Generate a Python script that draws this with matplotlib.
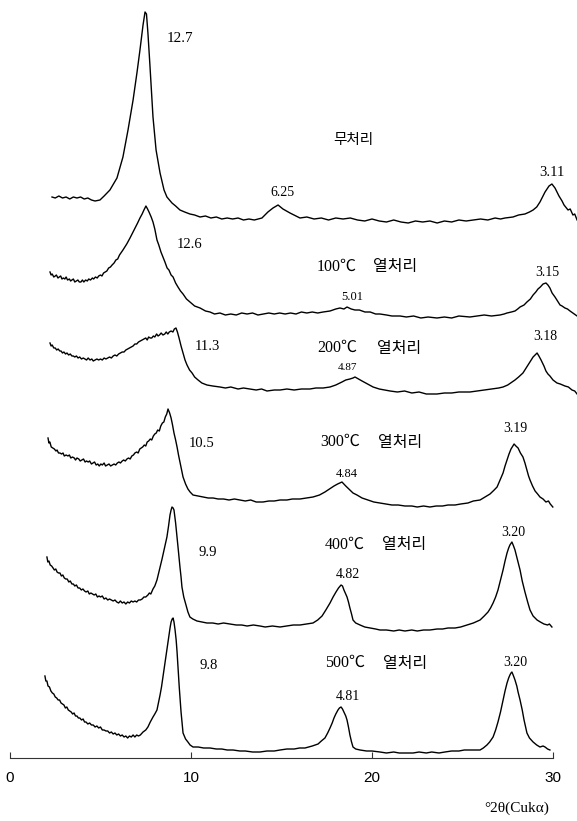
import numpy as np
import matplotlib
matplotlib.use("Agg")
import matplotlib.pyplot as plt

# XRD patterns (2theta, relative intensity above each pattern's baseline)
untreated = [
    (2.32, 23), (2.5, 22), (2.7, 24), (2.9, 22), (3.1, 23), (3.3, 21), (3.5, 23), (3.7, 22),
    (3.9, 23), (4.1, 21), (4.3, 22), (4.5, 20), (4.7, 19), (4.97, 20), (5.2, 24), (5.52, 30),
    (5.91, 42), (6.24, 63), (6.52, 90), (6.80, 120), (7.02, 148), (7.18, 170), (7.35, 195),
    (7.46, 208), (7.54, 206), (7.62, 187), (7.73, 155), (7.90, 103), (8.07, 70), (8.29, 47),
    (8.51, 30), (8.67, 23), (8.95, 17), (9.15, 14), (9.39, 10), (9.65, 8), (9.94, 6), (10.2, 5),
    (10.5, 3), (10.8, 4), (11.1, 2), (11.4, 3), (11.7, 1), (12.0, 2), (12.3, 1), (12.6, 2),
    (12.9, 0), (13.2, 1), (13.5, 0), (13.92, 2), (14.25, 8), (14.53, 12), (14.81, 15),
    (15.08, 11), (15.47, 7), (15.8, 4), (16.02, 2), (16.4, 3), (16.8, 1), (17.2, 2), (17.6, 0),
    (18.0, 2), (18.4, 1), (18.8, 2), (19.2, 0), (19.6, -1), (20.0, 1), (20.4, -1), (20.8, -2),
    (21.2, 0), (21.6, -2), (22.0, -3), (22.4, -1), (22.8, -2), (23.2, -1), (23.6, -3), (24.0, -1),
    (24.4, -2), (24.8, 0), (25.2, -1), (25.6, 0), (26.0, 1), (26.4, 0), (26.8, 2), (27.1, 1),
    (27.35, 2), (27.79, 3), (28.1, 5), (28.45, 6), (28.7, 8), (28.90, 10), (29.1, 13),
    (29.28, 18), (29.56, 28), (29.78, 34), (29.94, 36), (30.11, 32), (30.33, 24), (30.5, 19),
    (30.61, 15), (30.83, 10), (30.95, 11), (31.10, 5), (31.2, 6), (31.33, 0),
]
heated_100 = [
    (2.21, 43), (2.27, 40), (2.33, 41), (2.42, 38), (2.5, 39), (2.56, 40), (2.65, 37), (2.72, 38),
    (2.8, 39), (2.87, 36), (2.95, 37), (3.03, 36), (3.1, 38), (3.18, 35), (3.28, 36), (3.35, 34),
    (3.42, 35), (3.5, 36), (3.58, 33), (3.66, 34), (3.75, 35), (3.83, 33), (3.92, 33), (4.0, 35),
    (4.08, 33), (4.18, 35), (4.27, 34), (4.35, 36), (4.45, 35), (4.55, 37), (4.62, 36), (4.72, 38),
    (4.82, 37), (4.9, 39), (5.0, 40), (5.08, 39), (5.17, 42), (5.26, 43), (5.35, 44), (5.45, 47),
    (5.55, 48), (5.64, 50), (5.75, 52), (5.85, 55), (5.95, 56), (6.05, 60), (6.24, 65),
    (6.45, 71), (6.63, 77), (6.8, 83), (6.91, 87), (7.05, 92),
    (7.18, 97), (7.30, 101), (7.40, 105), (7.51, 109), (7.60, 106), (7.68, 103), (7.80, 98),
    (7.90, 93), (8.00, 86), (8.12, 75), (8.22, 70), (8.34, 63), (8.45, 58), (8.56, 53),
    (8.68, 47), (8.78, 45), (8.90, 40), (9.01, 38), (9.15, 32), (9.28, 28), (9.42, 24),
    (9.56, 21), (9.75, 16), (9.94, 13), (10.2, 9), (10.50, 7), (10.8, 4), (11.05, 3), (11.3, 1),
    (11.60, 2), (11.9, 0), (12.2, 1), (12.5, 0), (12.8, 2), (13.1, 1), (13.4, 2), (13.7, 0),
    (14.0, 1), (14.3, 2), (14.6, 1), (14.9, 2), (15.2, 1), (15.5, 2), (15.8, 1), (16.1, 3),
    (16.4, 2), (16.7, 3), (17.0, 2), (17.3, 3), (17.68, 4), (18.0, 6), (18.23, 7), (18.45, 6),
    (18.62, 8), (18.85, 6), (19.06, 5), (19.3, 5), (19.61, 3), (19.9, 3), (20.2, 1), (20.44, 1),
    (20.8, 0), (21.1, -1), (21.55, -1), (21.9, -2), (22.3, -1), (22.7, -3), (23.1, -2),
    (23.59, -3), (24.0, -2), (24.4, -3), (24.8, -1), (25.41, -2), (25.8, -1), (26.2, 0),
    (26.6, -1), (27.07, 0), (27.3, 1), (27.46, 2), (27.7, 3), (27.90, 4), (28.05, 6), (28.18, 8),
    (28.4, 10), (28.56, 13), (28.75, 16), (28.90, 20), (29.05, 23), (29.17, 26), (29.30, 28),
    (29.45, 31), (29.61, 32), (29.72, 30), (29.83, 27), (29.95, 22), (30.11, 18), (30.25, 14),
    (30.39, 10), (30.5, 9), (30.66, 7), (30.8, 6), (30.94, 4), (31.1, 2), (31.33, -1),
]
heated_200 = [
    (2.21, 47), (2.27, 44), (2.33, 45), (2.42, 42), (2.5, 42), (2.58, 40), (2.66, 41), (2.75, 39),
    (2.82, 39), (2.9, 37), (2.98, 38), (3.07, 36), (3.15, 37), (3.24, 35), (3.33, 36), (3.42, 34),
    (3.5, 34), (3.58, 33), (3.67, 34), (3.76, 32), (3.85, 33), (3.95, 31), (4.05, 32), (4.14, 31),
    (4.23, 30), (4.32, 32), (4.42, 30), (4.52, 31), (4.6, 29), (4.7, 30), (4.8, 31), (4.9, 30),
    (5.0, 31), (5.1, 30), (5.2, 32), (5.3, 31), (5.4, 32), (5.5, 33), (5.6, 32), (5.7, 34),
    (5.8, 35), (5.9, 34), (6.0, 36), (6.1, 37), (6.2, 38), (6.3, 38), (6.4, 40), (6.5, 41),
    (6.6, 42), (6.7, 43), (6.8, 44), (6.9, 46), (7.0, 46), (7.1, 48), (7.2, 49), (7.3, 50),
    (7.4, 51), (7.5, 52), (7.58, 50), (7.66, 53), (7.75, 52), (7.83, 52), (7.92, 54), (8.0, 53),
    (8.1, 56), (8.18, 54), (8.26, 55), (8.35, 57), (8.45, 55), (8.55, 56), (8.63, 58), (8.72, 56),
    (8.8, 58), (8.9, 59), (9.0, 58), (9.08, 61), (9.17, 62), (9.25, 58),
    (9.34, 52), (9.45, 44), (9.56, 37),
    (9.67, 30), (9.78, 25), (9.92, 20), (10.06, 17), (10.2, 13), (10.39, 10), (10.6, 7),
    (10.88, 5), (11.2, 4), (11.60, 3), (11.9, 2), (12.2, 3), (12.6, 1), (12.9, 2), (13.26, 1),
    (13.6, 0), (13.9, 1), (14.2, -1), (14.6, 0), (14.92, 0), (15.3, 1), (15.7, 0), (16.1, 1),
    (16.57, 1), (16.9, 2), (17.3, 2), (17.68, 3), (18.0, 5), (18.34, 8), (18.55, 10),
    (18.78, 11), (18.95, 12), (19.06, 13), (19.25, 11), (19.45, 9), (19.75, 6), (20.06, 3),
    (20.4, 1), (20.7, 0), (21.0, -1), (21.4, -2), (21.8, -1), (22.2, -3), (22.6, -2), (23.0, -4),
    (23.59, -4), (24.0, -3), (24.4, -3), (24.8, -2), (25.41, -2), (25.8, -1), (26.2, 0),
    (26.6, 1), (27.0, 2), (27.24, 3), (27.5, 5), (27.90, 10), (28.1, 13), (28.34, 17),
    (28.55, 23), (28.73, 28), (28.9, 33), (29.01, 35), (29.12, 37), (29.22, 34), (29.34, 30),
    (29.5, 24), (29.61, 19), (29.72, 16), (29.83, 14), (30.0, 10), (30.22, 7), (30.4, 6),
    (30.66, 4), (30.85, 3), (31.05, 0), (31.2, -1), (31.33, -4),
]
heated_300 = [
    (2.10, 67), (2.15, 62), (2.2, 63), (2.28, 58), (2.36, 57), (2.45, 56), (2.54, 54), (2.6, 55),
    (2.68, 52), (2.76, 52), (2.85, 51), (2.93, 52), (3.0, 49), (3.1, 50), (3.2, 49), (3.28, 50),
    (3.36, 47), (3.45, 48), (3.55, 47), (3.62, 45), (3.7, 47), (3.8, 46), (3.88, 44), (3.97, 45),
    (4.06, 46), (4.15, 43), (4.23, 44), (4.32, 43), (4.4, 44), (4.5, 41), (4.58, 42), (4.67, 43),
    (4.76, 40), (4.85, 41), (4.93, 39), (5.02, 41), (5.1, 40), (5.2, 42), (5.28, 39), (5.38, 40),
    (5.47, 41), (5.56, 39), (5.65, 40), (5.75, 41), (5.84, 40), (5.93, 42), (6.02, 43), (6.1, 42),
    (6.2, 44), (6.28, 45), (6.37, 44), (6.46, 46), (6.55, 47), (6.64, 46), (6.73, 49), (6.82, 50),
    (6.9, 52), (7.0, 53), (7.08, 52), (7.17, 56), (7.25, 57), (7.33, 58), (7.42, 60), (7.5, 59),
    (7.58, 63), (7.66, 64), (7.75, 66), (7.83, 65), (7.92, 69), (8.0, 71), (8.08, 72), (8.16, 75),
    (8.25, 74), (8.33, 79), (8.42, 82), (8.5, 83), (8.58, 88), (8.66, 91), (8.73, 96),
    (8.82, 92), (8.90, 87), (8.98, 80), (9.06, 72), (9.15, 65),
    (9.23, 58), (9.31, 50), (9.39, 43), (9.48, 35), (9.56, 28), (9.7, 21), (9.83, 16),
    (9.95, 13), (10.11, 10), (10.4, 9), (10.66, 8), (10.95, 7), (11.22, 7), (11.5, 6), (11.8, 6),
    (12.1, 5), (12.4, 6), (12.71, 5), (13.0, 4), (13.3, 5), (13.6, 3), (13.98, 3), (14.3, 4),
    (14.6, 4), (14.92, 5), (15.3, 5), (15.6, 6), (16.02, 6), (16.4, 7), (16.74, 8), (17.1, 10),
    (17.40, 13), (17.65, 16), (17.90, 19), (18.1, 21), (18.34, 23), (18.55, 19), (18.78, 15),
    (18.95, 12), (19.17, 10), (19.45, 7), (19.77, 5), (20.1, 3), (20.44, 2), (20.8, 1),
    (21.1, 0), (21.45, 0), (21.82, -1), (22.2, -1), (22.5, -2), (22.85, -1), (23.20, -2),
    (23.55, -1), (23.9, -1), (24.2, 0), (24.59, 0), (24.9, 1), (25.3, 2), (25.6, 4), (25.97, 5),
    (26.25, 8), (26.52, 11), (26.75, 15), (26.91, 18), (27.05, 24), (27.24, 32), (27.35, 39),
    (27.46, 45), (27.57, 51), (27.68, 56), (27.78, 59), (27.85, 61), (27.95, 59), (28.07, 57),
    (28.2, 52), (28.34, 48), (28.45, 42), (28.56, 35), (28.65, 29), (28.73, 25), (28.87, 19),
    (29.01, 14), (29.15, 11), (29.28, 8), (29.45, 6), (29.61, 3), (29.75, 4), (29.85, 1),
    (29.99, -2),
]
heated_400 = [
    (2.04, 70), (2.09, 65), (2.15, 66), (2.22, 62), (2.3, 61), (2.38, 59), (2.45, 57), (2.53, 58),
    (2.6, 55), (2.68, 54), (2.76, 54), (2.84, 51), (2.92, 52), (3.0, 49), (3.08, 48), (3.16, 48),
    (3.25, 45), (3.33, 46), (3.42, 43), (3.5, 43), (3.58, 41), (3.67, 42), (3.76, 39), (3.85, 39),
    (3.94, 37), (4.03, 38), (4.12, 36), (4.2, 35), (4.3, 36), (4.38, 33), (4.47, 34), (4.56, 33),
    (4.65, 32), (4.74, 33), (4.83, 30), (4.92, 31), (5.0, 30), (5.1, 31), (5.2, 28), (5.3, 29),
    (5.4, 27), (5.5, 28), (5.6, 27), (5.7, 26), (5.8, 27), (5.9, 25), (6.0, 24), (6.1, 26),
    (6.2, 24), (6.3, 25), (6.4, 23), (6.5, 25), (6.6, 24), (6.7, 26), (6.8, 25), (6.9, 26),
    (7.0, 25), (7.1, 27), (7.2, 27), (7.3, 28), (7.4, 30), (7.5, 30), (7.62, 32), (7.7, 34),
    (7.78, 33), (7.90, 38), (8.0, 41),
    (8.12, 47), (8.2, 53), (8.29, 60), (8.40, 68), (8.51, 77), (8.6, 84), (8.67, 90), (8.76, 101),
    (8.84, 112), (8.90, 117), (8.95, 120), (9.01, 119), (9.06, 117), (9.15, 104), (9.23, 90),
    (9.31, 75), (9.39, 60), (9.45, 50), (9.50, 40), (9.6, 30), (9.72, 22), (9.83, 15),
    (9.94, 10), (10.1, 8), (10.33, 6), (10.6, 5), (10.88, 4), (11.2, 4), (11.5, 3), (11.8, 4),
    (12.15, 3), (12.5, 2), (12.8, 2), (13.1, 1), (13.45, 2), (13.81, 1), (14.1, 0), (14.5, 1),
    (14.92, 0), (15.3, 1), (15.65, 2), (16.02, 2), (16.4, 3), (16.74, 4), (17.0, 7), (17.24, 11),
    (17.45, 17), (17.68, 24), (17.85, 30), (18.01, 35), (18.15, 39), (18.29, 42), (18.37, 41),
    (18.45, 37), (18.55, 33), (18.62, 30), (18.7, 25), (18.78, 19), (18.87, 13), (18.95, 7),
    (19.1, 4), (19.34, 2), (19.6, 0), (19.9, -1), (20.2, -2), (20.44, -3), (20.8, -3), (21.2, -4),
    (21.5, -3), (21.82, -4), (22.2, -3), (22.5, -4), (22.85, -3), (23.20, -3), (23.6, -2),
    (23.9, -2), (24.2, -1), (24.59, -1), (24.9, 0), (25.25, 2), (25.6, 4), (25.97, 7),
    (26.2, 11), (26.41, 15), (26.55, 19), (26.69, 24), (26.83, 30), (26.96, 37), (27.1, 47),
    (27.24, 57), (27.35, 66), (27.46, 74), (27.55, 79), (27.62, 82), (27.73, 85), (27.82, 81),
    (27.90, 77), (28.04, 67), (28.18, 57), (28.3, 46), (28.45, 35), (28.6, 25), (28.73, 17),
    (28.9, 11), (29.12, 7), (29.3, 5), (29.50, 3), (29.7, 2), (29.8, 3), (29.94, 0),
]
heated_500 = [
    (1.93, 76), (1.98, 71), (2.04, 71), (2.1, 66), (2.18, 65), (2.26, 61), (2.34, 59), (2.42, 58),
    (2.5, 55), (2.58, 54), (2.66, 52), (2.74, 52), (2.82, 49), (2.9, 48), (2.98, 47), (3.06, 44),
    (3.14, 45), (3.22, 42), (3.3, 41), (3.38, 40), (3.46, 38), (3.54, 39), (3.62, 36), (3.7, 36),
    (3.78, 34), (3.86, 34), (3.95, 32), (4.04, 33), (4.12, 30), (4.2, 30), (4.3, 28), (4.4, 29),
    (4.5, 27), (4.6, 27), (4.7, 25), (4.8, 26), (4.9, 24), (5.0, 25), (5.1, 22), (5.2, 22),
    (5.3, 21), (5.4, 21), (5.5, 19), (5.6, 20), (5.7, 18), (5.8, 19), (5.9, 17), (6.0, 18),
    (6.1, 16), (6.2, 17), (6.3, 15), (6.4, 16), (6.5, 14), (6.6, 16), (6.7, 15), (6.8, 17),
    (6.9, 15), (7.0, 17), (7.1, 16), (7.2, 17), (7.35, 20), (7.5, 22), (7.62, 25), (7.75, 30),
    (7.90, 35),
    (8.0, 38), (8.12, 42), (8.2, 49), (8.29, 57), (8.37, 65), (8.45, 75), (8.54, 86), (8.62, 97),
    (8.70, 107), (8.78, 117), (8.85, 125), (8.90, 130), (8.96, 133), (9.01, 134), (9.06, 130),
    (9.12, 122), (9.18, 112), (9.23, 100), (9.28, 85), (9.35, 65), (9.45, 40), (9.56, 19),
    (9.7, 13), (9.83, 10), (9.95, 7), (10.11, 5), (10.4, 5), (10.7, 4), (11.05, 4), (11.4, 3),
    (11.7, 3), (12.0, 2), (12.32, 2), (12.7, 1), (13.0, 1), (13.4, 0), (13.81, 0), (14.2, 1),
    (14.6, 1), (14.92, 2), (15.3, 3), (15.7, 3), (16.0, 4), (16.30, 4), (16.7, 6), (17.02, 8),
    (17.2, 11), (17.40, 14), (17.55, 19), (17.68, 24), (17.80, 29), (17.90, 34), (18.0, 38),
    (18.12, 42), (18.2, 44), (18.29, 45), (18.37, 43), (18.45, 40), (18.55, 36), (18.62, 32),
    (18.7, 25), (18.78, 17), (18.87, 10), (18.95, 5), (19.1, 3), (19.34, 2), (19.7, 1),
    (20.0, 1), (20.44, 0), (20.8, -1), (21.2, 0), (21.5, -1), (21.9, -1), (22.27, -1),
    (22.6, 0), (23.0, -1), (23.3, 0), (23.7, -1), (24.03, 0), (24.4, 1), (24.8, 1), (25.1, 2),
    (25.41, 2), (25.7, 2), (25.97, 2), (26.15, 4), (26.35, 7), (26.5, 10), (26.69, 15),
    (26.83, 22), (26.96, 30), (27.1, 40), (27.24, 52), (27.35, 61), (27.46, 69), (27.55, 74),
    (27.62, 77), (27.68, 79), (27.73, 80), (27.82, 76), (27.90, 72), (28.0, 66), (28.07, 60),
    (28.18, 52), (28.3, 42), (28.40, 32), (28.50, 24), (28.56, 19), (28.7, 14), (28.90, 10),
    (29.1, 7), (29.28, 5), (29.45, 6), (29.56, 5), (29.7, 3), (29.83, 2),
]

patterns = [untreated, heated_100, heated_200, heated_300, heated_400, heated_500]
temperatures = ["", "100℃", "200℃", "300℃", "400℃", "500℃"]
treatments = ["무처리", "열처리", "열처리", "열처리", "열처리", "열처리"]
d_spacings = [
    ["12.7", "6.25", "3.11"],
    ["12.6", "5.01", "3.15"],
    ["11.3", "4.87", "3.18"],
    ["10.5", "4.84", "3.19"],
    ["9.9", "4.82", "3.20"],
    ["9.8", "4.81", "3.20"],
]
x_ticks = [0, 10, 20, 30]

# layout: vertical offset of each pattern and where its labels sit
offsets = [538, 443, 368, 253, 131, 6]
temp_pos = [None, (16.96, 491), (16.96, 410), (17.13, 316), (17.40, 213), (17.40, 95)]
treat_pos = [(17.85, 618), (20.06, 491), (20.28, 410), (20.33, 316), (20.55, 213), (20.61, 95)]
d_pos = [
    [(9.39, 720), (15.03, 566), (29.94, 586)],
    [(9.94, 513), (18.90, 461), (29.67, 486)],
    [(10.88, 412), (18.67, 390), (29.56, 421)],
    [(10.61, 315), (18.62, 284), (27.90, 330)],
    [(10.94, 206), (18.67, 184), (27.79, 226)],
    [(10.99, 93), (18.67, 62), (27.90, 96)],
]
d_size = [
    [11, 10, 10.5],
    [10.5, 9, 10],
    [10.5, 8, 10],
    [10.5, 9, 10],
    [10.5, 10, 10],
    [10.5, 10, 10],
]

serif = ["Liberation Serif", "Noto Sans CJK KR", "DejaVu Sans"]
hangul = ["Noto Sans CJK KR", "DejaVu Sans"]

fig = plt.figure(figsize=(5.77, 8.21), dpi=100)
ax = fig.add_axes([0, 63 / 821, 1, 758 / 821])

for pattern, off in zip(patterns, offsets):
    tt, inten = np.array(pattern).T
    ax.plot(tt, inten + off, color="black", lw=1.0)

for i in range(len(patterns)):
    if temp_pos[i] is not None:
        ax.text(*temp_pos[i], temperatures[i], family=serif, fontsize=11.5,
                ha="left", va="center")
    ax.text(*treat_pos[i], treatments[i], family=hangul, fontsize=11.5 if i else 10.5,
            ha="left", va="center", fontweight="light")
    for lab, pos, fs in zip(d_spacings[i], d_pos[i], d_size[i]):
        ax.text(*pos, lab, family=serif, fontsize=fs, ha="center", va="center")

ax.set_xlim(-10 / 18.1, 567 / 18.1)
ax.set_ylim(0, 758)
for side in ["top", "left", "right"]:
    ax.spines[side].set_visible(False)
ax.spines["bottom"].set_bounds(0, 30)
ax.spines["bottom"].set_linewidth(0.8)
ax.spines["bottom"].set_color("#333333")
ax.set_yticks([])
ax.set_xticks(x_ticks)
ax.set_xticklabels([str(t) for t in x_ticks], family="Liberation Sans", fontsize=11)
ax.tick_params(axis="x", direction="in", length=4, width=0.8, color="#333333", pad=9)

fig.text(517 / 577, 1 - 808 / 821, "°2θ(Cukα)", family=serif, fontsize=11,
         ha="center", va="center")

fig.savefig("out.png", dpi=100)
